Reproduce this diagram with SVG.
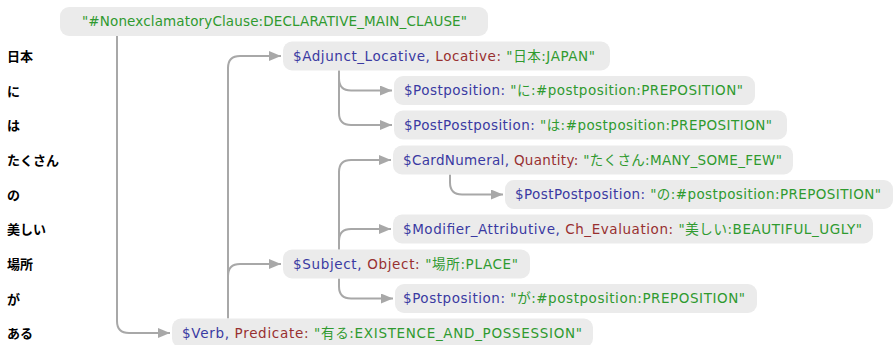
<svg xmlns="http://www.w3.org/2000/svg" width="896" height="345" viewBox="0 0 896 345" xml:space="preserve">
<style>
.box{fill:#ebebeb;}
.t{font-family:'DejaVu Sans','Noto Sans CJK JP',sans-serif;font-size:13.5px;}
.b{fill:#3a3aa2;}
.r{fill:#983030;}
.g{fill:#2f9a2f;}
.w{font-family:'Noto Sans CJK JP',sans-serif;font-size:13px;font-weight:bold;fill:#000;}
.c{fill:none;stroke:#a8a8a8;stroke-width:2;marker-end:url(#ah);}
</style>
<defs>
<marker id="ah" markerUnits="userSpaceOnUse" markerWidth="12" markerHeight="10" refX="12" refY="5" orient="auto"><path d="M0,0 L12,5 L0,10 z" fill="#a8a8a8"/></marker>
</defs>
<g id="words">
<text class="w" x="7" y="61">日本</text>
<text class="w" x="7" y="95.5">に</text>
<text class="w" x="7" y="130">は</text>
<text class="w" x="7" y="165">たくさん</text>
<text class="w" x="7" y="199.5">の</text>
<text class="w" x="7" y="234">美しい</text>
<text class="w" x="7" y="269">場所</text>
<text class="w" x="7" y="303.5">が</text>
<text class="w" x="7" y="338">ある</text>
</g>
<g id="connectors">
<path class="c" d="M117,36 V321 Q117,333 129,333 H170"/>
<path class="c" d="M228,318.5 V68 Q228,56 240,56 H281"/>
<path class="c" d="M228,276 Q228,264 240,264 H281"/>
<path class="c" d="M339,70.5 V78.5 Q339,90.5 351,90.5 H392"/>
<path class="c" d="M339,70.5 V113 Q339,125 351,125 H392"/>
<path class="c" d="M339,249.5 V172 Q339,160 351,160 H391"/>
<path class="c" d="M339,249.5 V241 Q339,229 351,229 H391"/>
<path class="c" d="M339,278.5 V286.5 Q339,298.5 351,298.5 H393"/>
<path class="c" d="M450,174.5 V182.5 Q450,194.5 462,194.5 H503"/>
</g>
<g id="n-root">
<rect class="box" x="60" y="7" width="428" height="29" rx="9"/>
<text class="t" x="82" y="26" textLength="385"><tspan class="g">"#NonexclamatoryClause:DECLARATIVE_MAIN_CLAUSE"</tspan></text>
</g>
<g id="n-adjunct">
<rect class="box" x="283" y="41.5" width="327" height="29" rx="9"/>
<text class="t" x="293" y="60.5" textLength="302"><tspan class="b">$Adjunct_Locative,</tspan><tspan class="r">  Locative:</tspan><tspan class="g">  "日本:JAPAN"</tspan></text>
</g>
<g id="n-ni">
<rect class="box" x="394" y="76" width="361" height="29" rx="9"/>
<text class="t" x="404" y="95" textLength="339"><tspan class="b">$Postposition:</tspan><tspan class="g">  "に:#postposition:PREPOSITION"</tspan></text>
</g>
<g id="n-wa">
<rect class="box" x="394" y="110.5" width="393" height="29" rx="9"/>
<text class="t" x="404" y="129.5" textLength="368"><tspan class="b">$PostPostposition:</tspan><tspan class="g">  "は:#postposition:PREPOSITION"</tspan></text>
</g>
<g id="n-card">
<rect class="box" x="393" y="145.5" width="400" height="29" rx="9"/>
<text class="t" x="403" y="164.5" textLength="379"><tspan class="b">$CardNumeral,</tspan><tspan class="r">  Quantity:</tspan><tspan class="g">  "たくさん:MANY_SOME_FEW"</tspan></text>
</g>
<g id="n-no">
<rect class="box" x="505" y="180" width="388" height="29" rx="9"/>
<text class="t" x="515" y="199" textLength="366"><tspan class="b">$PostPostposition:</tspan><tspan class="g">  "の:#postposition:PREPOSITION"</tspan></text>
</g>
<g id="n-modifier">
<rect class="box" x="393" y="214.5" width="480" height="29" rx="9"/>
<text class="t" x="403" y="233.5" textLength="459"><tspan class="b">$Modifier_Attributive,</tspan><tspan class="r">  Ch_Evaluation:</tspan><tspan class="g">  "美しい:BEAUTIFUL_UGLY"</tspan></text>
</g>
<g id="n-subject">
<rect class="box" x="283" y="249.5" width="247" height="29" rx="9"/>
<text class="t" x="293" y="268.5" textLength="225"><tspan class="b">$Subject,</tspan><tspan class="r">  Object:</tspan><tspan class="g">  "場所:PLACE"</tspan></text>
</g>
<g id="n-ga">
<rect class="box" x="395" y="284" width="362" height="29" rx="9"/>
<text class="t" x="403" y="303" textLength="342"><tspan class="b">$Postposition:</tspan><tspan class="g">  "が:#postposition:PREPOSITION"</tspan></text>
</g>
<g id="n-verb">
<rect class="box" x="172" y="318.5" width="421" height="29" rx="9"/>
<text class="t" x="182" y="337.5" textLength="400"><tspan class="b">$Verb,</tspan><tspan class="r">  Predicate:</tspan><tspan class="g">  "有る:EXISTENCE_AND_POSSESSION"</tspan></text>
</g>
</svg>
